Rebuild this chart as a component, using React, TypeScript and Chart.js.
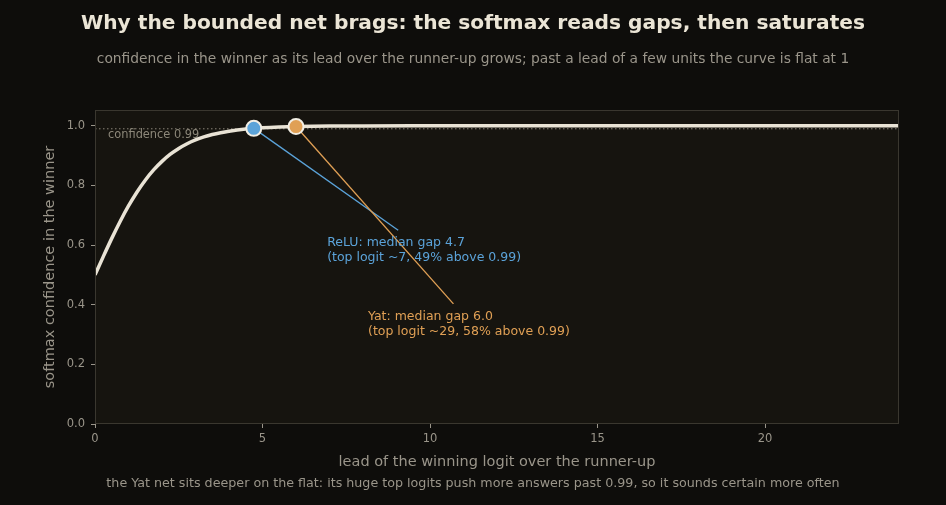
import React, { useEffect, useRef } from "react";
import { Chart, registerables } from "chart.js";

Chart.register(...registerables);

// Softmax confidence of the winner against its lead over the runner-up
const leadValues = [0, 0.25, 0.5, 0.75, 1, 1.25, 1.5, 1.75, 2, 2.25, 2.5, 2.75, 3, 3.25, 3.5, 3.75, 4, 4.5, 5, 5.5, 6, 7, 8, 10, 14, 18, 24];
const confidenceValues = [0.5, 0.5622, 0.6225, 0.6792, 0.7311, 0.7773, 0.8176, 0.852, 0.8808, 0.9047, 0.9241, 0.9399, 0.9526, 0.9627, 0.9707, 0.977, 0.982, 0.989, 0.9933, 0.9959, 0.9975, 0.9991, 0.9997, 1.0, 1.0, 1.0, 1.0];

// Median gaps of the two nets, placed on the curve
const netNames = ["ReLU", "Yat"];
const medianGaps = [4.74, 6.0];
const medianConfidence = [0.9914, 0.9975];
const netNotes = [
  ["ReLU: median gap 4.7", "(top logit ~7, 49% above 0.99)"],
  ["Yat: median gap 6.0", "(top logit ~29, 58% above 0.99)"],
];
const noteAnchors = [
  { x: 9.05, y: 0.65 },
  { x: 10.7, y: 0.403 },
];
const netColors = ["#5ba3d9", "#e0a055"];

const confidenceLevel = 0.99;
const xTicks = [0, 5, 10, 15, 20];
const yTicks = [0, 0.2, 0.4, 0.6, 0.8, 1.0];

const titleText = "Why the bounded net brags: the softmax reads gaps, then saturates";
const subtitleText = "confidence in the winner as its lead over the runner-up grows; past a lead of a few units the curve is flat at 1";
const footerText = "the Yat net sits deeper on the flat: its huge top logits push more answers past 0.99, so it sounds certain more often";
const xTitle = "lead of the winning logit over the runner-up";
const yTitle = "softmax confidence in the winner";

const FONT = "'DejaVu Sans', sans-serif";
const BG = "#0e0d0b";
const PLOT_BG = "#16140f";
const MUTED = "#9a958a";
const CURVE = "#e9e3d5";

const decorPlugin = {
  id: "decor",
  beforeDraw(chart: any) {
    const { ctx, chartArea: a } = chart;
    ctx.save();
    ctx.fillStyle = BG;
    ctx.fillRect(0, 0, chart.width, chart.height);
    ctx.fillStyle = PLOT_BG;
    ctx.fillRect(a.left, a.top, a.right - a.left, a.bottom - a.top);
    ctx.restore();
  },
  beforeDatasetsDraw(chart: any) {
    const { ctx, chartArea: a, scales } = chart;
    const xs = scales.x;
    const ys = scales.y;
    ctx.save();
    // threshold line
    const yl = ys.getPixelForValue(confidenceLevel);
    ctx.strokeStyle = "#8a8578";
    ctx.lineWidth = 1;
    ctx.setLineDash([1.5, 2.5]);
    ctx.beginPath();
    ctx.moveTo(a.left, yl);
    ctx.lineTo(a.right, yl);
    ctx.stroke();
    ctx.setLineDash([]);
    ctx.fillStyle = "#8c8779";
    ctx.font = `11.4px ${FONT}`;
    ctx.textAlign = "left";
    ctx.textBaseline = "middle";
    ctx.fillText("confidence 0.99", a.left + 13, yl + 6);

    // note leaders
    for (let i = 0; i < netNames.length; i++) {
      ctx.strokeStyle = netColors[i];
      ctx.lineWidth = 1.3;
      ctx.beginPath();
      ctx.moveTo(xs.getPixelForValue(medianGaps[i]), ys.getPixelForValue(medianConfidence[i]));
      ctx.lineTo(xs.getPixelForValue(noteAnchors[i].x), ys.getPixelForValue(noteAnchors[i].y));
      ctx.stroke();
    }
    ctx.restore();
  },
  afterDraw(chart: any) {
    const { ctx, chartArea: a, scales } = chart;
    const xs = scales.x;
    const ys = scales.y;
    ctx.save();
    // frame
    ctx.strokeStyle = "#3a372f";
    ctx.lineWidth = 1;
    ctx.strokeRect(a.left + 0.5, a.top + 0.5, a.right - a.left - 1, a.bottom - a.top - 1);

    // notes
    ctx.font = `12.5px ${FONT}`;
    ctx.textAlign = "left";
    ctx.textBaseline = "middle";
    const noteOrigins = [
      { x: 6.93, y: 0.608 },
      { x: 8.15, y: 0.36 },
    ];
    for (let i = 0; i < netNames.length; i++) {
      ctx.fillStyle = netColors[i];
      const px = xs.getPixelForValue(noteOrigins[i].x);
      const py = ys.getPixelForValue(noteOrigins[i].y);
      netNotes[i].forEach((line, k) => ctx.fillText(line, px, py + k * 15));
    }

    // titles
    ctx.textAlign = "center";
    ctx.fillStyle = "#ebe5d6";
    ctx.font = `bold 20.2px ${FONT}`;
    ctx.fillText(titleText, chart.width / 2, 24);
    ctx.fillStyle = MUTED;
    ctx.font = `13.8px ${FONT}`;
    ctx.fillText(subtitleText, chart.width / 2, 59);
    ctx.font = `14.5px ${FONT}`;
    ctx.fillText(xTitle, (a.left + a.right) / 2, 462);
    ctx.font = `12.7px ${FONT}`;
    ctx.fillText(footerText, chart.width / 2, 484);
    ctx.save();
    ctx.translate(50, (a.top + a.bottom) / 2);
    ctx.rotate(-Math.PI / 2);
    ctx.font = `14.5px ${FONT}`;
    ctx.fillText(yTitle, 0, 0);
    ctx.restore();
    ctx.restore();
  },
};

export default function App() {
  const ref = useRef<HTMLCanvasElement | null>(null);

  useEffect(() => {
    document.body.style.margin = "0";
    document.body.style.background = BG;
    const canvas = ref.current;
    if (!canvas) return;
    const chart = new Chart(canvas, {
      type: "line",
      data: {
        datasets: [
          {
            label: "confidence",
            data: leadValues.map((x, i) => ({ x, y: confidenceValues[i] })),
            borderColor: CURVE,
            borderWidth: 3.5,
            pointRadius: 0,
            cubicInterpolationMode: "monotone",
            fill: false,
            order: 2,
          },
          {
            label: "median gaps",
            data: medianGaps.map((x, i) => ({ x, y: medianConfidence[i] })),
            showLine: false,
            pointRadius: 7.5,
            pointBorderWidth: 2,
            pointBorderColor: "#f2eee4",
            pointBackgroundColor: netColors,
            order: 1,
          },
        ],
      },
      plugins: [decorPlugin],
      options: {
        animation: false,
        responsive: false,
        maintainAspectRatio: false,
        layout: { padding: { top: 110, right: 47, bottom: 0, left: 0 } },
        plugins: {
          legend: { display: false },
          tooltip: { enabled: false },
          title: { display: false },
        },
        scales: {
          x: {
            type: "linear",
            min: 0,
            max: 24,
            afterFit: (s: any) => {
              s.height = 81;
            },
            afterBuildTicks: (s: any) => {
              s.ticks = xTicks.map((v) => ({ value: v }));
            },
            ticks: {
              color: MUTED,
              font: { family: FONT, size: 11.5 },
              padding: 4,
              maxRotation: 0,
              callback: (v: any) => String(v),
            },
            grid: { drawOnChartArea: false, drawTicks: true, tickLength: 4, color: MUTED },
            border: { display: false },
          },
          y: {
            min: 0,
            max: 1.053,
            afterFit: (s: any) => {
              s.width = 95;
            },
            afterBuildTicks: (s: any) => {
              s.ticks = yTicks.map((v) => ({ value: v }));
            },
            ticks: {
              color: MUTED,
              font: { family: FONT, size: 11.5 },
              padding: 6,
              callback: (v: any) => Number(v).toFixed(1),
            },
            grid: { drawOnChartArea: false, drawTicks: true, tickLength: 4, color: MUTED },
            border: { display: false },
          },
        },
      },
    } as any);
    return () => chart.destroy();
  }, []);

  return (
    <div style={{ width: 946, height: 505, background: BG }}>
      <canvas ref={ref} width={946} height={505} style={{ display: "block", width: 946, height: 505 }} />
    </div>
  );
}
